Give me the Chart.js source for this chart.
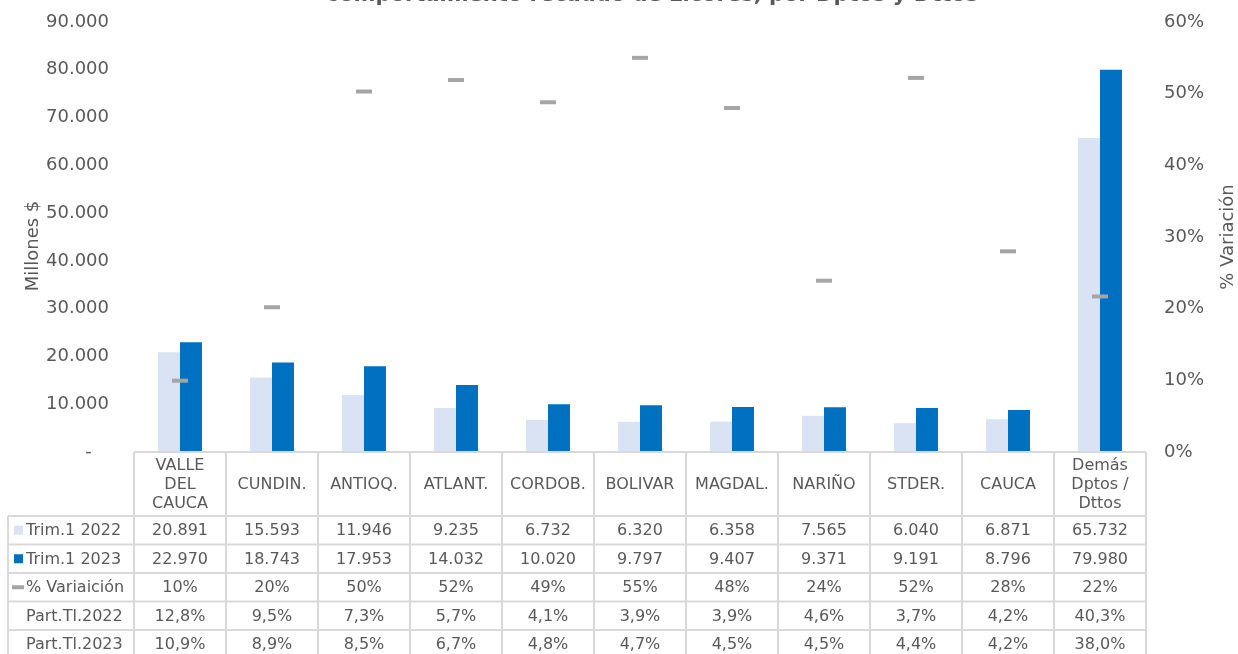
<!DOCTYPE html>
<html><head><meta charset="utf-8">
<script src="https://cdn.jsdelivr.net/npm/chart.js@4.4.1/dist/chart.umd.min.js"></script>
<style>html,body{margin:0;padding:0;background:#fff;overflow:hidden}canvas{display:block}</style>
</head><body>
<canvas id="c" width="1238" height="654"></canvas>
<script>
const chartTitle = 'Comportamiento recaudo de Licores, por Dptos y Dttos';
const categories = [['VALLE','DEL','CAUCA'],'CUNDIN.','ANTIOQ.','ATLANT.','CORDOB.','BOLIVAR','MAGDAL.','NARIÑO','STDER.','CAUCA',['Demás','Dptos /','Dttos']];
const trim2022 = [20891, 15593, 11946, 9235, 6732, 6320, 6358, 7565, 6040, 6871, 65732];
const trim2023 = [22970, 18743, 17953, 14032, 10020, 9797, 9407, 9371, 9191, 8796, 79980];
const variacion = [9.95, 20.2, 50.3, 51.9, 48.8, 55.0, 48.0, 23.9, 52.2, 28.0, 21.7];
const part2022 = [12.8, 9.5, 7.3, 5.7, 4.1, 3.9, 3.9, 4.6, 3.7, 4.2, 40.3];
const part2023 = [10.9, 8.9, 8.5, 6.7, 4.8, 4.7, 4.5, 4.5, 4.4, 4.2, 38.0];
const seriesNames = ['Trim.1 2022', 'Trim.1 2023', '% Variaición', 'Part.Tl.2022', 'Part.Tl.2023'];
const leftAxisTitle = 'Millones $';
const rightAxisTitle = '% Variación';

const TXT = '#595959';
const LIGHT = '#dae3f3';
const DARK = '#0070c0';
const GREY = '#a5a5a5';
const FONT = '"DejaVu Sans", Verdana, sans-serif';

function thousands(n) { return String(n).replace(/\B(?=(\d{3})+(?!\d))/g, '.'); }
function pct1(v) { return v.toFixed(1).replace('.', ',') + '%'; }

const titlePlugin = {
  id: 'cutTitle',
  afterDraw(chart) {
    const ctx = chart.ctx, area = chart.chartArea;
    ctx.save();
    ctx.font = 'bold 21px ' + FONT;
    ctx.fillStyle = TXT;
    ctx.textAlign = 'center';
    ctx.textBaseline = 'alphabetic';
    ctx.fillText(chartTitle, 651, 1);
    ctx.font = '18px ' + FONT;
    ctx.textBaseline = 'middle';
    const mid = (area.top + area.bottom) / 2;
    ctx.save();
    ctx.translate(33, mid + 9);
    ctx.rotate(-Math.PI / 2);
    ctx.fillText(leftAxisTitle, 0, 0);
    ctx.restore();
    ctx.translate(1228, mid);
    ctx.rotate(-Math.PI / 2);
    ctx.fillText(rightAxisTitle, 0, 0);
    ctx.restore();
  }
};

const tablePlugin = {
  id: 'dataTable',
  afterDraw(chart) {
    const ctx = chart.ctx, xs = chart.scales.x, area = chart.chartArea;
    const n = categories.length;
    const colW = xs.getPixelForValue(1) - xs.getPixelForValue(0);
    const left0 = xs.getPixelForValue(0) - colW / 2;
    const right0 = xs.getPixelForValue(n - 1) + colW / 2;
    const top = area.bottom;
    const headerH = 64;
    const rowH = 28.5;
    const tableLeft = 8;
    const rows = [
      trim2022.map(thousands),
      trim2023.map(thousands),
      variacion.map(v => Math.round(v) + '%'),
      part2022.map(pct1),
      part2023.map(pct1)
    ];
    const bottom = top + headerH + rows.length * rowH;
    ctx.save();
    ctx.strokeStyle = '#d9d9d9';
    ctx.lineWidth = 2;
    const line = (a, b, c, d) => { ctx.beginPath(); ctx.moveTo(a, b); ctx.lineTo(c, d); ctx.stroke(); };
    line(left0, top, right0, top);
    for (let r = 0; r <= rows.length; r++) {
      const y = top + headerH + r * rowH;
      line(tableLeft, y, right0, y);
    }
    for (let i = 0; i <= n; i++) {
      const xx = left0 + i * colW;
      line(xx, top, xx, bottom);
    }
    line(tableLeft, top + headerH, tableLeft, bottom);

    ctx.fillStyle = TXT;
    ctx.font = '16px ' + FONT;
    ctx.textAlign = 'center';
    ctx.textBaseline = 'middle';
    for (let i = 0; i < n; i++) {
      const lbl = categories[i];
      const lines = Array.isArray(lbl) ? lbl : [lbl];
      const lh = 19;
      const cx = xs.getPixelForValue(i);
      const y0 = top + headerH / 2 - (lines.length - 1) * lh / 2 + 1;
      lines.forEach((t, k) => ctx.fillText(t, cx, y0 + k * lh));
    }
    rows.forEach((vals, r) => {
      const cy = top + headerH + r * rowH + rowH / 2 + 1;
      vals.forEach((t, i) => ctx.fillText(t, xs.getPixelForValue(i), cy));
      ctx.textAlign = 'left';
      ctx.fillText(seriesNames[r], 26, cy);
      ctx.textAlign = 'center';
      if (r === 0 || r === 1) {
        ctx.fillStyle = r === 0 ? LIGHT : DARK;
        ctx.fillRect(14, cy - 5.5, 9, 9);
        ctx.fillStyle = TXT;
      } else if (r === 2) {
        ctx.fillStyle = GREY;
        ctx.fillRect(12, cy - 3, 12, 4);
        ctx.fillStyle = TXT;
      }
    });
    ctx.restore();
  }
};

function fixAxis(width) {
  return function (s) { s.width = width; s.paddingTop = 0; s.paddingBottom = 0; };
}

new Chart(document.getElementById('c'), {
  data: {
    labels: categories,
    datasets: [
      { type: 'line', label: seriesNames[2], data: variacion, yAxisID: 'y1', showLine: false,
        pointStyle: 'line', pointRadius: 8, pointHoverRadius: 8, borderColor: GREY, backgroundColor: GREY,
        pointBorderWidth: 4, borderWidth: 4, order: 0 },
      { type: 'bar', label: seriesNames[0], data: trim2022, backgroundColor: LIGHT, yAxisID: 'y',
        barPercentage: 1, categoryPercentage: 0.478, order: 1 },
      { type: 'bar', label: seriesNames[1], data: trim2023, backgroundColor: DARK, yAxisID: 'y',
        barPercentage: 1, categoryPercentage: 0.478, order: 1 }
    ]
  },
  options: {
    responsive: false,
    animation: false,
    devicePixelRatio: 1,
    layout: { padding: { top: 22, bottom: 202, left: 0, right: 0 } },
    plugins: { legend: { display: false }, tooltip: { enabled: false }, title: { display: false } },
    scales: {
      x: { display: false, grid: { display: false } },
      y: {
        position: 'left', min: 0, max: 90000,
        afterFit: fixAxis(134),
        grid: { display: false, drawTicks: false }, border: { display: false },
        ticks: { stepSize: 10000, padding: 25, color: TXT, font: { family: FONT, size: 18 },
          callback: v => v === 0 ? '-   ' : thousands(v) },
        title: { display: false }
      },
      y1: {
        position: 'right', min: 0, max: 60,
        afterFit: fixAxis(92),
        grid: { display: false, drawTicks: false }, border: { display: false },
        ticks: { stepSize: 10, padding: 18, color: TXT, font: { family: FONT, size: 18 },
          callback: v => v + '%' },
        title: { display: false }
      }
    }
  },
  plugins: [titlePlugin, tablePlugin]
});
</script>
</body></html>
